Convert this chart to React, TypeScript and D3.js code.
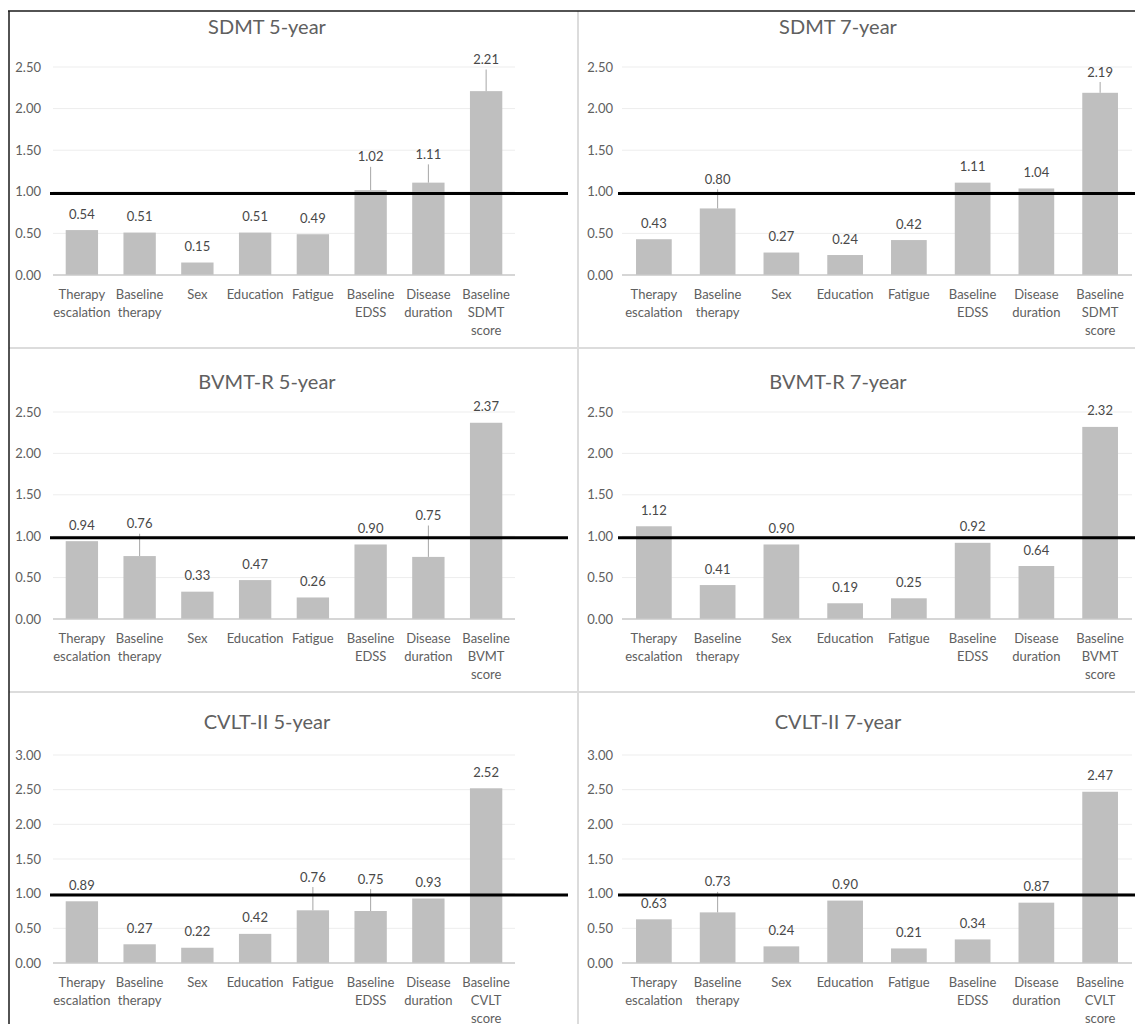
import { useEffect, useRef } from 'react';
import * as d3 from 'd3';

// x categories, one array of text lines per bar (last one differs per test)
const sharedCategories = [
  ['Therapy', 'escalation'],
  ['Baseline', 'therapy'],
  ['Sex'],
  ['Education'],
  ['Fatigue'],
  ['Baseline', 'EDSS'],
  ['Disease', 'duration'],
];
const sdmtLastCategory = ['Baseline', 'SDMT', 'score'];
const bvmtLastCategory = ['Baseline', 'BVMT', 'score'];
const cvltLastCategory = ['Baseline', 'CVLT', 'score'];

// bar values
const sdmt5Values = [0.54, 0.51, 0.15, 0.51, 0.49, 1.02, 1.11, 2.21];
const sdmt7Values = [0.43, 0.80, 0.27, 0.24, 0.42, 1.11, 1.04, 2.19];
const bvmt5Values = [0.94, 0.76, 0.33, 0.47, 0.26, 0.90, 0.75, 2.37];
const bvmt7Values = [1.12, 0.41, 0.90, 0.19, 0.25, 0.92, 0.64, 2.32];
const cvlt5Values = [0.89, 0.27, 0.22, 0.42, 0.76, 0.75, 0.93, 2.52];
const cvlt7Values = [0.63, 0.73, 0.24, 0.90, 0.21, 0.34, 0.87, 2.47];

// labels that were dragged up (value where the label sits, null = default spot)
const sdmt5LabelAt = [null, null, null, null, null, 1.42, 1.45, 2.59];
const sdmt7LabelAt = [null, 1.15, null, null, null, null, null, 2.44];
const bvmt5LabelAt = [null, 1.15, null, null, null, null, 1.25, null];
const bvmt7LabelAt = [null, null, null, null, null, null, null, null];
const cvlt5LabelAt = [null, null, null, null, 1.24, 1.21, null, null];
const cvlt7LabelAt = [null, 1.17, null, null, null, null, null, null];

// y ticks
const ticksTo250 = [0, 0.5, 1, 1.5, 2, 2.5];
const ticksTo300 = [0, 0.5, 1, 1.5, 2, 2.5, 3];

// the thick black line sits just under 1.00
const referenceValue = 0.98;

const panels = [
  { title: 'SDMT 5-year', values: sdmt5Values, labelAt: sdmt5LabelAt, last: sdmtLastCategory, ticks: ticksTo250, col: 0, row: 0 },
  { title: 'SDMT 7-year', values: sdmt7Values, labelAt: sdmt7LabelAt, last: sdmtLastCategory, ticks: ticksTo250, col: 1, row: 0 },
  { title: 'BVMT-R 5-year', values: bvmt5Values, labelAt: bvmt5LabelAt, last: bvmtLastCategory, ticks: ticksTo250, col: 0, row: 1 },
  { title: 'BVMT-R 7-year', values: bvmt7Values, labelAt: bvmt7LabelAt, last: bvmtLastCategory, ticks: ticksTo250, col: 1, row: 1 },
  { title: 'CVLT-II 5-year', values: cvlt5Values, labelAt: cvlt5LabelAt, last: cvltLastCategory, ticks: ticksTo300, col: 0, row: 2 },
  { title: 'CVLT-II 7-year', values: cvlt7Values, labelAt: cvlt7LabelAt, last: cvltLastCategory, ticks: ticksTo300, col: 1, row: 2 },
];

// page layout
const width = 1135;
const height = 1024;
const cols = [
  { tickX: 41, x0: 53, x1: 515, refX0: 50, refX1: 568, titleX: 267 },
  { tickX: 613, x0: 622, x1: 1132, refX0: 618, refX1: 1135, titleX: 838 },
];
const rows = [
  { titleY: 34, yTop: 67, yZero: 275 },
  { titleY: 389, yTop: 412, yZero: 619 },
  { titleY: 729, yTop: 755, yZero: 963 },
];
const font = 'Lato, "Open Sans", sans-serif';
const textGray = '#606060';

const App = () => {
  const ref = useRef(null);

  useEffect(() => {
    d3.select(ref.current).selectAll('*').remove();

    const svg = d3.select(ref.current)
      .append('svg')
      .attr('width', width)
      .attr('height', height)
      .style('position', 'absolute')
      .style('left', 0)
      .style('top', 0)
      .style('background', '#fff')
      .style('font-family', font);

    panels.forEach(p => {
      const c = cols[p.col];
      const r = rows[p.row];
      const categories = [...sharedCategories, p.last];
      const g = svg.append('g');

      const x = d3.scaleBand()
        .domain(d3.range(categories.length))
        .range([c.x0, c.x1])
        .paddingInner(0.44)
        .paddingOuter(0.22);
      const y = d3.scaleLinear()
        .domain([0, d3.max(p.ticks)])
        .range([r.yZero, r.yTop]);

      // gridlines
      g.selectAll('.grid')
        .data(p.ticks.filter(t => t > 0))
        .join('line')
        .attr('x1', c.x0)
        .attr('x2', c.x1)
        .attr('y1', d => y(d))
        .attr('y2', d => y(d))
        .attr('stroke', '#ededed')
        .attr('stroke-width', 1);

      // tick labels
      g.selectAll('.tick')
        .data(p.ticks)
        .join('text')
        .attr('x', c.tickX)
        .attr('y', d => y(d))
        .attr('dy', '0.35em')
        .attr('text-anchor', 'end')
        .attr('font-size', 13)
        .attr('fill', textGray)
        .text(d => d3.format('.2f')(d));

      // bars
      g.selectAll('.bar')
        .data(p.values)
        .join('rect')
        .attr('x', (d, i) => x(i))
        .attr('width', x.bandwidth())
        .attr('y', d => y(d))
        .attr('height', d => y(0) - y(d))
        .attr('fill', '#bfbfbf');

      // x axis line
      g.append('line')
        .attr('x1', c.x0)
        .attr('x2', c.x1)
        .attr('y1', y(0))
        .attr('y2', y(0))
        .attr('stroke', '#c8c8c8')
        .attr('stroke-width', 1.5);

      // leader lines for moved labels
      g.selectAll('.leader')
        .data(p.values.map((v, i) => ({ v, i, at: p.labelAt[i] })).filter(d => d.at != null))
        .join('line')
        .attr('x1', d => x(d.i) + x.bandwidth() / 2)
        .attr('x2', d => x(d.i) + x.bandwidth() / 2)
        .attr('y1', d => y(d.v))
        .attr('y2', d => y(d.at) + 10)
        .attr('stroke', '#a6a6a6')
        .attr('stroke-width', 1);

      // reference line
      g.append('line')
        .attr('x1', c.refX0)
        .attr('x2', c.refX1)
        .attr('y1', y(referenceValue))
        .attr('y2', y(referenceValue))
        .attr('stroke', '#000')
        .attr('stroke-width', 3);

      // value labels
      g.selectAll('.value')
        .data(p.values)
        .join('text')
        .attr('x', (d, i) => x(i) + x.bandwidth() / 2)
        .attr('y', (d, i) => p.labelAt[i] != null ? y(p.labelAt[i]) : y(d) - 16)
        .attr('dy', '0.35em')
        .attr('text-anchor', 'middle')
        .attr('font-size', 13)
        .attr('fill', '#484848')
        .text(d => d3.format('.2f')(d));

      // category labels
      const cat = g.selectAll('.cat')
        .data(categories)
        .join('text')
        .attr('text-anchor', 'middle')
        .attr('font-size', 13)
        .attr('fill', textGray);
      cat.selectAll('tspan')
        .data((d, i) => d.map((line, j) => ({ line, j, i })))
        .join('tspan')
        .attr('x', d => x(d.i) + x.bandwidth() / 2)
        .attr('y', d => y(0) + 19 + d.j * 18)
        .attr('dy', '0.35em')
        .text(d => d.line);

      // title
      g.append('text')
        .attr('x', c.titleX)
        .attr('y', r.titleY)
        .attr('text-anchor', 'middle')
        .attr('font-size', 20)
        .attr('fill', textGray)
        .text(p.title);
    });

    // panel separators
    svg.append('line')
      .attr('x1', 578).attr('x2', 578).attr('y1', 11).attr('y2', height)
      .attr('stroke', '#dcdcdc').attr('stroke-width', 2);
    [348, 692].forEach(yy => {
      svg.append('line')
        .attr('x1', 9).attr('x2', width).attr('y1', yy).attr('y2', yy)
        .attr('stroke', '#dcdcdc').attr('stroke-width', 2);
    });

    // outer frame (top and left only)
    svg.append('line')
      .attr('x1', 8).attr('x2', width).attr('y1', 11).attr('y2', 11)
      .attr('stroke', '#1a1a1a').attr('stroke-width', 1.5);
    svg.append('line')
      .attr('x1', 9).attr('x2', 9).attr('y1', 11).attr('y2', height)
      .attr('stroke', '#1a1a1a').attr('stroke-width', 1.5);
  }, []);

  return <div ref={ref}></div>;
};

export default App;
